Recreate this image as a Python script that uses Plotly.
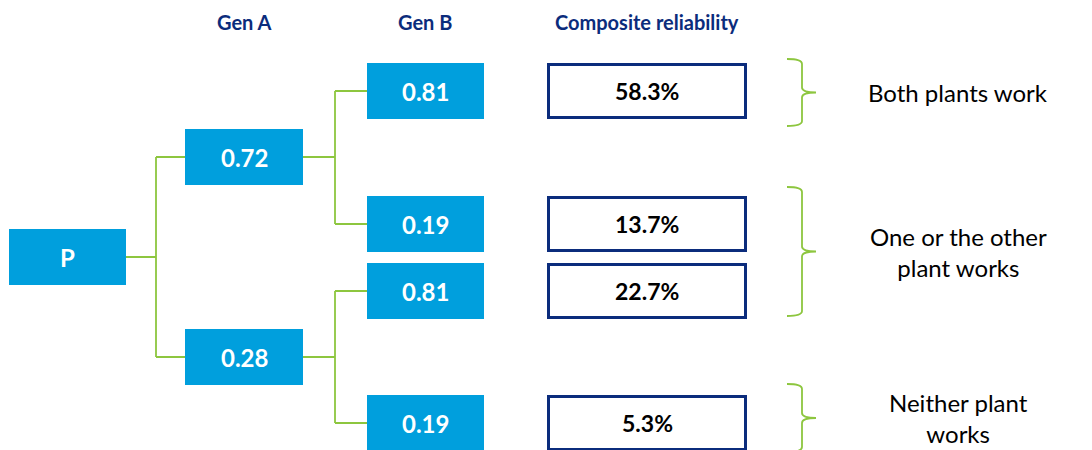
import plotly.graph_objects as go

# --- data ---
STAGES = ["Gen A", "Gen B", "Composite reliability"]
ROOT_LABEL = "P"
GEN_A = ["0.72", "0.28"]
GEN_B = ["0.81", "0.19", "0.81", "0.19"]
COMPOSITE = ["58.3%", "13.7%", "22.7%", "5.3%"]
OUTCOMES = ["Both plants work", "One or the other<br>plant works", "Neither plant<br>works"]
OUTCOME_ROWS = [[0], [1, 2], [3]]

# --- layout (pixel-like data units, y grows downward) ---
W, H = 1092, 450
PAGE_MARGIN = 8  # default <body> margin of the written html page
BLUE = "#009FDD"
GREEN = "#8DC63F"
NAVY = "#0B2C7C"
FONT = "Lato"

X_ROOT = (9, 126)
X_GEN_A = (185, 303)
X_GEN_B = (367, 484)
X_COMP = (548.5, 745.5)
X_BRANCH_A = 156
X_BRANCH_B = 335
X_LABEL = 958
BOX_HALF = 28

Y_ROOT = 257
Y_GEN_A = [157, 357]
Y_GEN_B = [91, 224, 291, 423]
BRACKET_SPANS = [(59, 126), (187, 316), (384, 452)]
HEADER_X = [244, 425, 647]
HEADER_Y = 22


def blue_box(x_range, y_center, text):
    shape = dict(
        type="rect", xref="x", yref="y",
        x0=x_range[0], x1=x_range[1],
        y0=y_center - BOX_HALF, y1=y_center + BOX_HALF,
        fillcolor=BLUE, line=dict(width=0), layer="above",
    )
    ann = dict(
        x=sum(x_range) / 2, y=y_center, text=f"<b>{text}</b>",
        showarrow=False, font=dict(family=FONT, size=24, color="white"),
    )
    return shape, ann


def outline_box(x_range, y_center, text):
    shape = dict(
        type="rect", xref="x", yref="y",
        x0=x_range[0], x1=x_range[1],
        y0=y_center - BOX_HALF + 1.5, y1=y_center + BOX_HALF - 1.5,
        fillcolor="white", line=dict(color=NAVY, width=3), layer="above",
    )
    ann = dict(
        x=sum(x_range) / 2, y=y_center, text=f"<b>{text}</b>",
        showarrow=False, font=dict(family=FONT, size=23, color="black"),
    )
    return shape, ann


def elbow(x_start, y_start, x_branch, y_ends, x_end):
    """Tree connector: stub out from a box, vertical spine, stubs into children"""
    path = f"M {x_start},{y_start} L {x_branch},{y_start}"
    path += f" M {x_branch},{min(y_ends)} L {x_branch},{max(y_ends)}"
    for y in y_ends:
        path += f" M {x_branch},{y} L {x_end},{y}"
    return dict(type="path", xref="x", yref="y", path=path,
                line=dict(color=GREEN, width=1.8))


def bracket(y_top, y_bottom, x_left=787, x_spine=802, x_tip=816, r=5):
    y_mid = (y_top + y_bottom) / 2
    path = (
        f"M {x_left},{y_top} Q {x_spine},{y_top} {x_spine},{y_top + r}"
        f" L {x_spine},{y_mid - r} Q {x_spine},{y_mid} {x_tip},{y_mid}"
        f" Q {x_spine},{y_mid} {x_spine},{y_mid + r}"
        f" L {x_spine},{y_bottom - r} Q {x_spine},{y_bottom} {x_left},{y_bottom}"
    )
    return dict(type="path", xref="x", yref="y", path=path,
                line=dict(color=GREEN, width=1.8)), y_mid


shapes = []
annotations = []

# connectors first so boxes sit on top
shapes.append(elbow(X_ROOT[1], Y_ROOT, X_BRANCH_A, Y_GEN_A, X_GEN_A[0]))
for i, y_a in enumerate(Y_GEN_A):
    shapes.append(elbow(X_GEN_A[1], y_a, X_BRANCH_B, Y_GEN_B[2 * i:2 * i + 2], X_GEN_B[0]))

s, a = blue_box(X_ROOT, Y_ROOT, ROOT_LABEL)
shapes.append(s)
annotations.append(a)
for text, y in zip(GEN_A, Y_GEN_A):
    s, a = blue_box(X_GEN_A, y, text)
    shapes.append(s)
    annotations.append(a)
for text, y in zip(GEN_B, Y_GEN_B):
    s, a = blue_box(X_GEN_B, y, text)
    shapes.append(s)
    annotations.append(a)
for text, y in zip(COMPOSITE, Y_GEN_B):
    s, a = outline_box(X_COMP, y, text)
    shapes.append(s)
    annotations.append(a)

for label, rows, span in zip(OUTCOMES, OUTCOME_ROWS, BRACKET_SPANS):
    s, y_mid = bracket(*span)
    shapes.append(s)
    annotations.append(dict(
        x=X_LABEL, y=y_mid, text=label, showarrow=False, align="center",
        font=dict(family=FONT, size=24, color="black"),
    ))

for label, x in zip(STAGES, HEADER_X):
    annotations.append(dict(
        x=x, y=HEADER_Y, text=f"<b>{label}</b>", showarrow=False,
        font=dict(family=FONT, size=20, color=NAVY),
    ))

# the page puts the plot 8px in from the top-left, so the visible window
# starts at data 8 and the figure is shrunk to fit the rest
fig = go.Figure()
fig.update_layout(
    width=W - PAGE_MARGIN, height=H - PAGE_MARGIN,
    margin=dict(l=0, r=0, t=0, b=0),
    paper_bgcolor="white", plot_bgcolor="white",
    showlegend=False,
    xaxis=dict(range=[PAGE_MARGIN, W], visible=False, fixedrange=True),
    yaxis=dict(range=[H, PAGE_MARGIN], visible=False, fixedrange=True),
    shapes=shapes,
    annotations=annotations,
)
fig.write_html("out.html")
